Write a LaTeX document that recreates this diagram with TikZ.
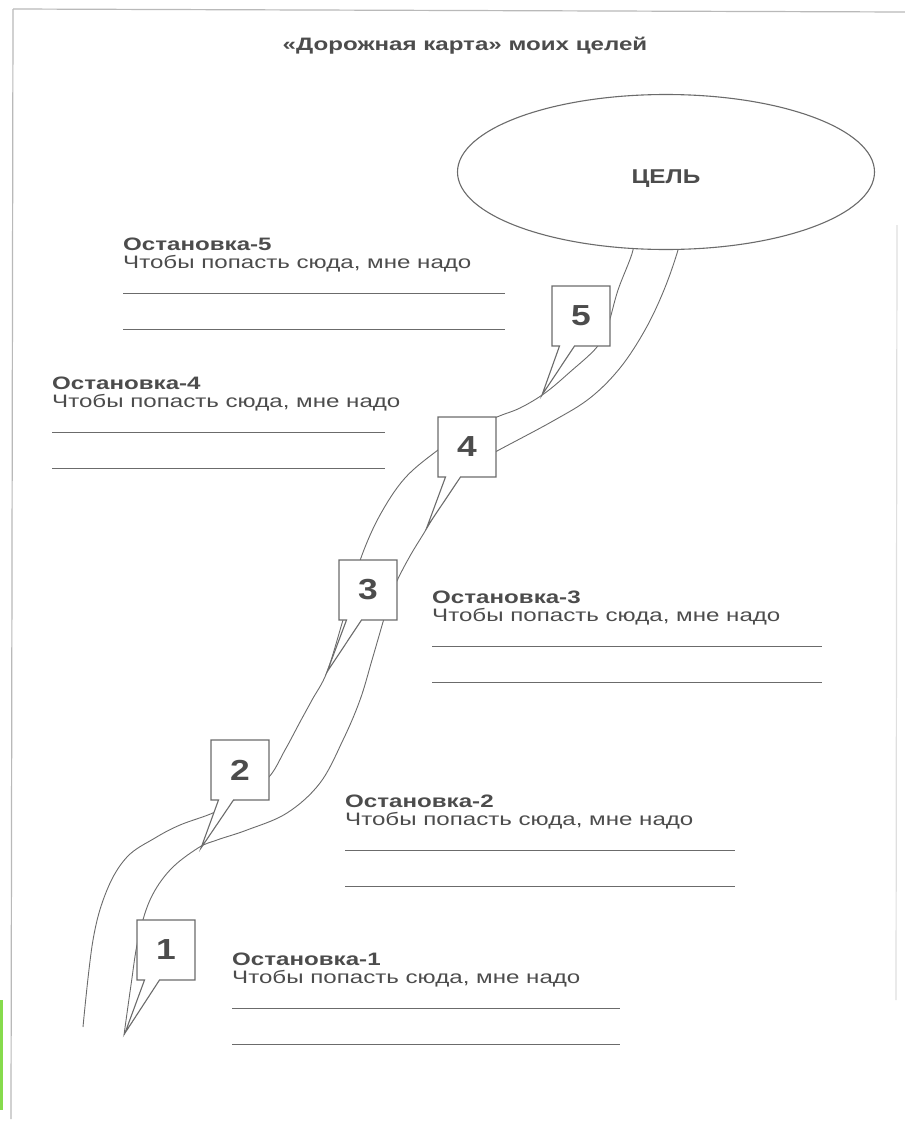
\documentclass[tikz,border=0pt]{standalone}
\usepackage{fontspec}
\setmainfont{Liberation Sans}
\newfontfamily\headfont[FakeStretch=1.22]{Liberation Sans}
\newfontfamily\wideFont[FakeStretch=1.34]{Liberation Sans}
\usetikzlibrary{positioning, shapes.geometric, shapes.callouts}
\definecolor{ink}{gray}{0.30}
\definecolor{pencil}{gray}{0.42}
\tikzset{
  road/.style={draw=pencil, line width=0.9pt},
  goal/.style={ellipse, draw=pencil, line width=1.1pt, fill=white, minimum width=417pt, minimum height=155pt, text=ink, font=\headfont\fontsize{20}{20}\selectfont\bfseries},
  stopbox/.style={rectangle callout, draw=pencil, line width=1.1pt, fill=white, minimum width=58pt, minimum height=60pt, inner sep=0pt, callout pointer width=15pt, text=ink, font=\headfont\fontsize{29}{29}\selectfont\bfseries},
  stoptitle/.style={anchor=north west, inner sep=0pt, text=ink, font=\wideFont\fontsize{18}{18}\selectfont\bfseries},
  stoptext/.style={inner sep=0pt, text=ink, font=\wideFont\fontsize{18}{18}\selectfont},
  blank/.style={draw=pencil, line width=1pt},
  frame/.style={draw=gray!55, line width=1.2pt},
}

\begin{document}
\begin{tikzpicture}[x=1pt, y=-1pt]
  \useasboundingbox (0,0) rectangle (905,1122);

  % scanned sheet
  \draw[frame] (13,9) -- (905,12);
  \draw[frame] (13,9) -- (11,1119);
  \draw[frame, draw=gray!25] (897,225) -- (896,1000);
  \fill[green!60!yellow!80!black!70] (0,1000) rectangle (3,1110);

  \node[font=\wideFont\fontsize{18}{18}\selectfont\bfseries, text=ink] (title) at (465,46) {«Дорожная карта» моих целей};

  % the road
  \draw[road] plot[smooth, tension=0.6] coordinates {(630,235) (633,250) (618,290) (608,325) (597,347) (570,372) (545,393) (520,408) (497,417) (465,432) (438,450) (405,478) (380,515) (362,555) (352,590) (343,620) (327,672) (312,700) (300,722) (285,750) (268,778) (240,796) (215,812) (180,825) (155,838) (127,857) (107,890) (93,940) (83,1027)};
  \draw[road] plot[smooth, tension=0.6] coordinates {(680,235) (678,250) (664,290) (645,330) (620,368) (590,398) (553,421) (497,451) (470,466) (458,478) (440,505) (427,528) (410,556) (396,583) (388,605) (383,622) (372,660) (360,700) (343,740) (320,783) (287,813) (247,830) (217,840) (198,848) (170,870) (150,900) (138,940) (131,985) (124,1035)};

  \node[goal] (goal) at (666,172) {\raisebox{-11pt}[0pt][0pt]{ЦЕЛЬ}};

  % stops along the road
  \foreach \n/\bx/\by/\tx/\ty in {5/581/316/542/395, 4/467/447/427/527, 3/368/590/327/672, 2/240/770/201/848, 1/166/950/125/1033}{
    \coordinate (tip\n) at (\tx,\ty);
    \node[stopbox, callout absolute pointer={(tip\n)}] (box\n) at (\bx,\by) {\n};
  }

  \foreach \n/\x/\y/\w in {5/123/238/382, 4/52/377/333, 3/432/591/390, 2/345/795/390, 1/232/953/388}{
    \node[stoptitle] (head\n) at (\x,\y) {Остановка-\n};
    \node[stoptext, below=4pt of head\n.south west, anchor=north west] (text\n) {Чтобы попасть сюда, мне надо};
    \draw[blank] (\x,\y+55) -- ++(\w,0);
    \draw[blank] (\x,\y+91) -- ++(\w,0);
  }
\end{tikzpicture}
\end{document}
